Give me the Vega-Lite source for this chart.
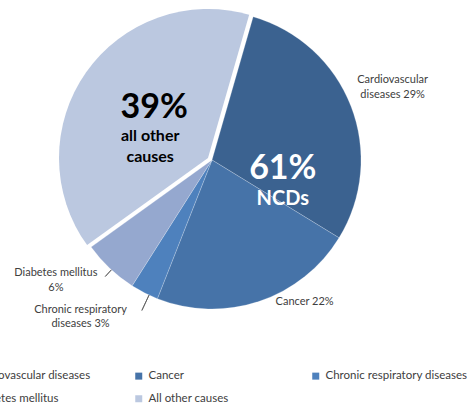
{
  "$schema": "https://vega.github.io/schema/vega-lite/v6.json",
  "width": 298,
  "height": 298,
  "autosize": "none",
  "padding": {"left": 63, "top": 11, "right": 113, "bottom": 96},
  "background": "white",
  "config": {"view": {"stroke": null}, "font": "Lato"},
  "resolve": {"scale": {"theta": "independent"}},
  "layer": [
    {
      "data": {"values": [
        {"cause": "Cardiovascular diseases", "pct": 29, "label": "Cardiovascular\ndiseases  29%"},
        {"cause": "Cancer", "pct": 22, "label": "Cancer 22%"},
        {"cause": "Chronic respiratory diseases", "pct": 3, "label": "Chronic respiratory\ndiseases 3%"},
        {"cause": "Diabetes mellitus", "pct": 6, "label": "Diabetes mellitus\n6%"},
        {"cause": "All other causes", "pct": 39, "label": ""}
      ]},
      "transform": [{"stack": "pct", "groupby": [], "as": ["p0", "p1"]}],
      "layer": [
        {
          "transform": [{"filter": "datum.cause !== 'All other causes'"}],
          "mark": {"type": "arc", "stroke": "#ffffff", "strokeWidth": 0.6, "strokeOpacity": 0.35},
          "encoding": {
            "theta": {"field": "p0", "type": "quantitative", "scale": {"domain": [0, 99], "range": [0.28, 6.5632]}},
            "theta2": {"field": "p1"},
            "color": {
              "field": "cause", "type": "nominal",
              "scale": {
                "domain": ["Cardiovascular diseases", "Cancer", "Chronic respiratory diseases", "Diabetes mellitus", "All other causes"],
                "range": ["#3B6290", "#4673A8", "#4E81BD", "#95A8CF", "#BBC8E0"]
              },
              "legend": {
                "orient": "none", "legendX": -107, "legendY": 359, "direction": "horizontal",
                "columns": 3, "gridAlign": "all", "symbolType": "square", "symbolSize": 49,
                "symbolStrokeWidth": 0, "labelFont": "Lato", "labelFontSize": 11.5, "labelColor": "#404040",
                "title": null, "columnPadding": 19, "rowPadding": 10, "labelLimit": 300, "labelOffset": 4
              }
            }
          }
        },
        {
          "transform": [{"filter": "datum.cause === 'All other causes'"}],
          "mark": {"type": "arc", "xOffset": -4, "yOffset": -2},
          "encoding": {
            "theta": {"field": "p0", "type": "quantitative", "scale": {"domain": [0, 99], "range": [0.28, 6.5632]}},
            "theta2": {"field": "p1"},
            "color": {"field": "cause", "type": "nominal"}
          }
        },
        {
          "transform": [{"filter": "datum.cause === 'Diabetes mellitus'"}],
          "mark": {"type": "arc", "fill": null, "stroke": "#595959", "strokeWidth": 0.8, "radius": 158, "radius2": 149, "thetaOffset": 0.176, "theta2Offset": 0.176},
          "encoding": {
            "theta": {"field": "p0", "type": "quantitative", "scale": {"domain": [0, 99], "range": [0.28, 6.5632]}},
            "theta2": {"field": "p0"}
          }
        },
        {
          "transform": [{"filter": "datum.cause === 'Chronic respiratory diseases'"}],
          "mark": {"type": "arc", "fill": null, "stroke": "#595959", "strokeWidth": 0.8, "radius": 166, "radius2": 149, "thetaOffset": 0.061, "theta2Offset": 0.061},
          "encoding": {
            "theta": {"field": "p0", "type": "quantitative", "scale": {"domain": [0, 99], "range": [0.28, 6.5632]}},
            "theta2": {"field": "p0"}
          }
        },
        {
          "mark": {"type": "text", "radius": 197, "dx": -3, "dy": -9, "fontSize": 11, "fill": "#404040", "lineBreak": "\n", "lineHeight": 15, "baseline": "middle", "align": "center"},
          "encoding": {
            "theta": {"field": "pct", "type": "quantitative", "stack": true, "scale": {"domain": [0, 99], "range": [0.28, 6.5632]}},
            "order": {"field": "p0"},
            "detail": {"field": "cause"},
            "text": {"condition": {"test": "datum.cause === 'Cardiovascular diseases'", "field": "label"}, "value": ""}
          }
        },
        {
          "mark": {"type": "text", "radius": 169, "dx": 39, "dy": -18, "fontSize": 11, "fill": "#404040", "baseline": "middle", "align": "center"},
          "encoding": {
            "theta": {"field": "pct", "type": "quantitative", "stack": true, "scale": {"domain": [0, 99], "range": [0.28, 6.5632]}},
            "order": {"field": "p0"},
            "detail": {"field": "cause"},
            "text": {"condition": {"test": "datum.cause === 'Cancer'", "field": "label"}, "value": ""}
          }
        },
        {
          "mark": {"type": "text", "radius": 204, "dx": -39, "dy": -32, "fontSize": 11, "fill": "#404040", "lineBreak": "\n", "lineHeight": 14, "baseline": "middle", "align": "center"},
          "encoding": {
            "theta": {"field": "pct", "type": "quantitative", "stack": true, "scale": {"domain": [0, 99], "range": [0.28, 6.5632]}},
            "order": {"field": "p0"},
            "detail": {"field": "cause"},
            "text": {"condition": {"test": "datum.cause === 'Chronic respiratory diseases'", "field": "label"}, "value": ""}
          }
        },
        {
          "mark": {"type": "text", "radius": 197, "dx": -21, "dy": -30, "fontSize": 11, "fill": "#404040", "lineBreak": "\n", "lineHeight": 15, "baseline": "middle", "align": "center"},
          "encoding": {
            "theta": {"field": "pct", "type": "quantitative", "stack": true, "scale": {"domain": [0, 99], "range": [0.28, 6.5632]}},
            "order": {"field": "p0"},
            "detail": {"field": "cause"},
            "text": {"condition": {"test": "datum.cause === 'Diabetes mellitus'", "field": "label"}, "value": ""}
          }
        }
      ]
    },
    {
      "data": {"values": [
        {"group": "NCDs", "share": 0.61},
        {"group": "all other\ncauses", "share": 0.39}
      ]},
      "encoding": {
        "theta": {"field": "share", "type": "quantitative", "stack": true, "scale": {"domain": [0, 1], "range": [0.28, 6.5632]}},
        "order": {"field": "share", "sort": "descending"},
        "detail": {"field": "group"}
      },
      "layer": [
        {
          "mark": {"type": "text", "radius": 75, "dx": 10, "dy": -35, "fontSize": 34, "fontWeight": "bold", "fill": "#ffffff", "baseline": "middle", "align": "center"},
          "encoding": {"text": {"condition": {"test": "datum.group === 'NCDs'", "field": "share", "type": "quantitative", "format": ".0%"}, "value": ""}}
        },
        {
          "mark": {"type": "text", "radius": 75, "dx": 10, "dy": -5, "fontSize": 20, "fontWeight": "bold", "fill": "#ffffff", "baseline": "middle", "align": "center"},
          "encoding": {"text": {"condition": {"test": "datum.group === 'NCDs'", "field": "group"}, "value": ""}}
        },
        {
          "mark": {"type": "text", "radius": 80, "dx": 7, "dy": -5, "fontSize": 34, "fontWeight": "bold", "fill": "#000000", "baseline": "middle", "align": "center"},
          "encoding": {"text": {"condition": {"test": "datum.group !== 'NCDs'", "field": "share", "type": "quantitative", "format": ".0%"}, "value": ""}}
        },
        {
          "mark": {"type": "text", "radius": 80, "dx": 3, "dy": 23, "fontSize": 16, "fontWeight": "bold", "fill": "#000000", "lineBreak": "\n", "lineHeight": 21, "baseline": "middle", "align": "center"},
          "encoding": {"text": {"condition": {"test": "datum.group !== 'NCDs'", "field": "group"}, "value": ""}}
        }
      ]
    }
  ]
}
